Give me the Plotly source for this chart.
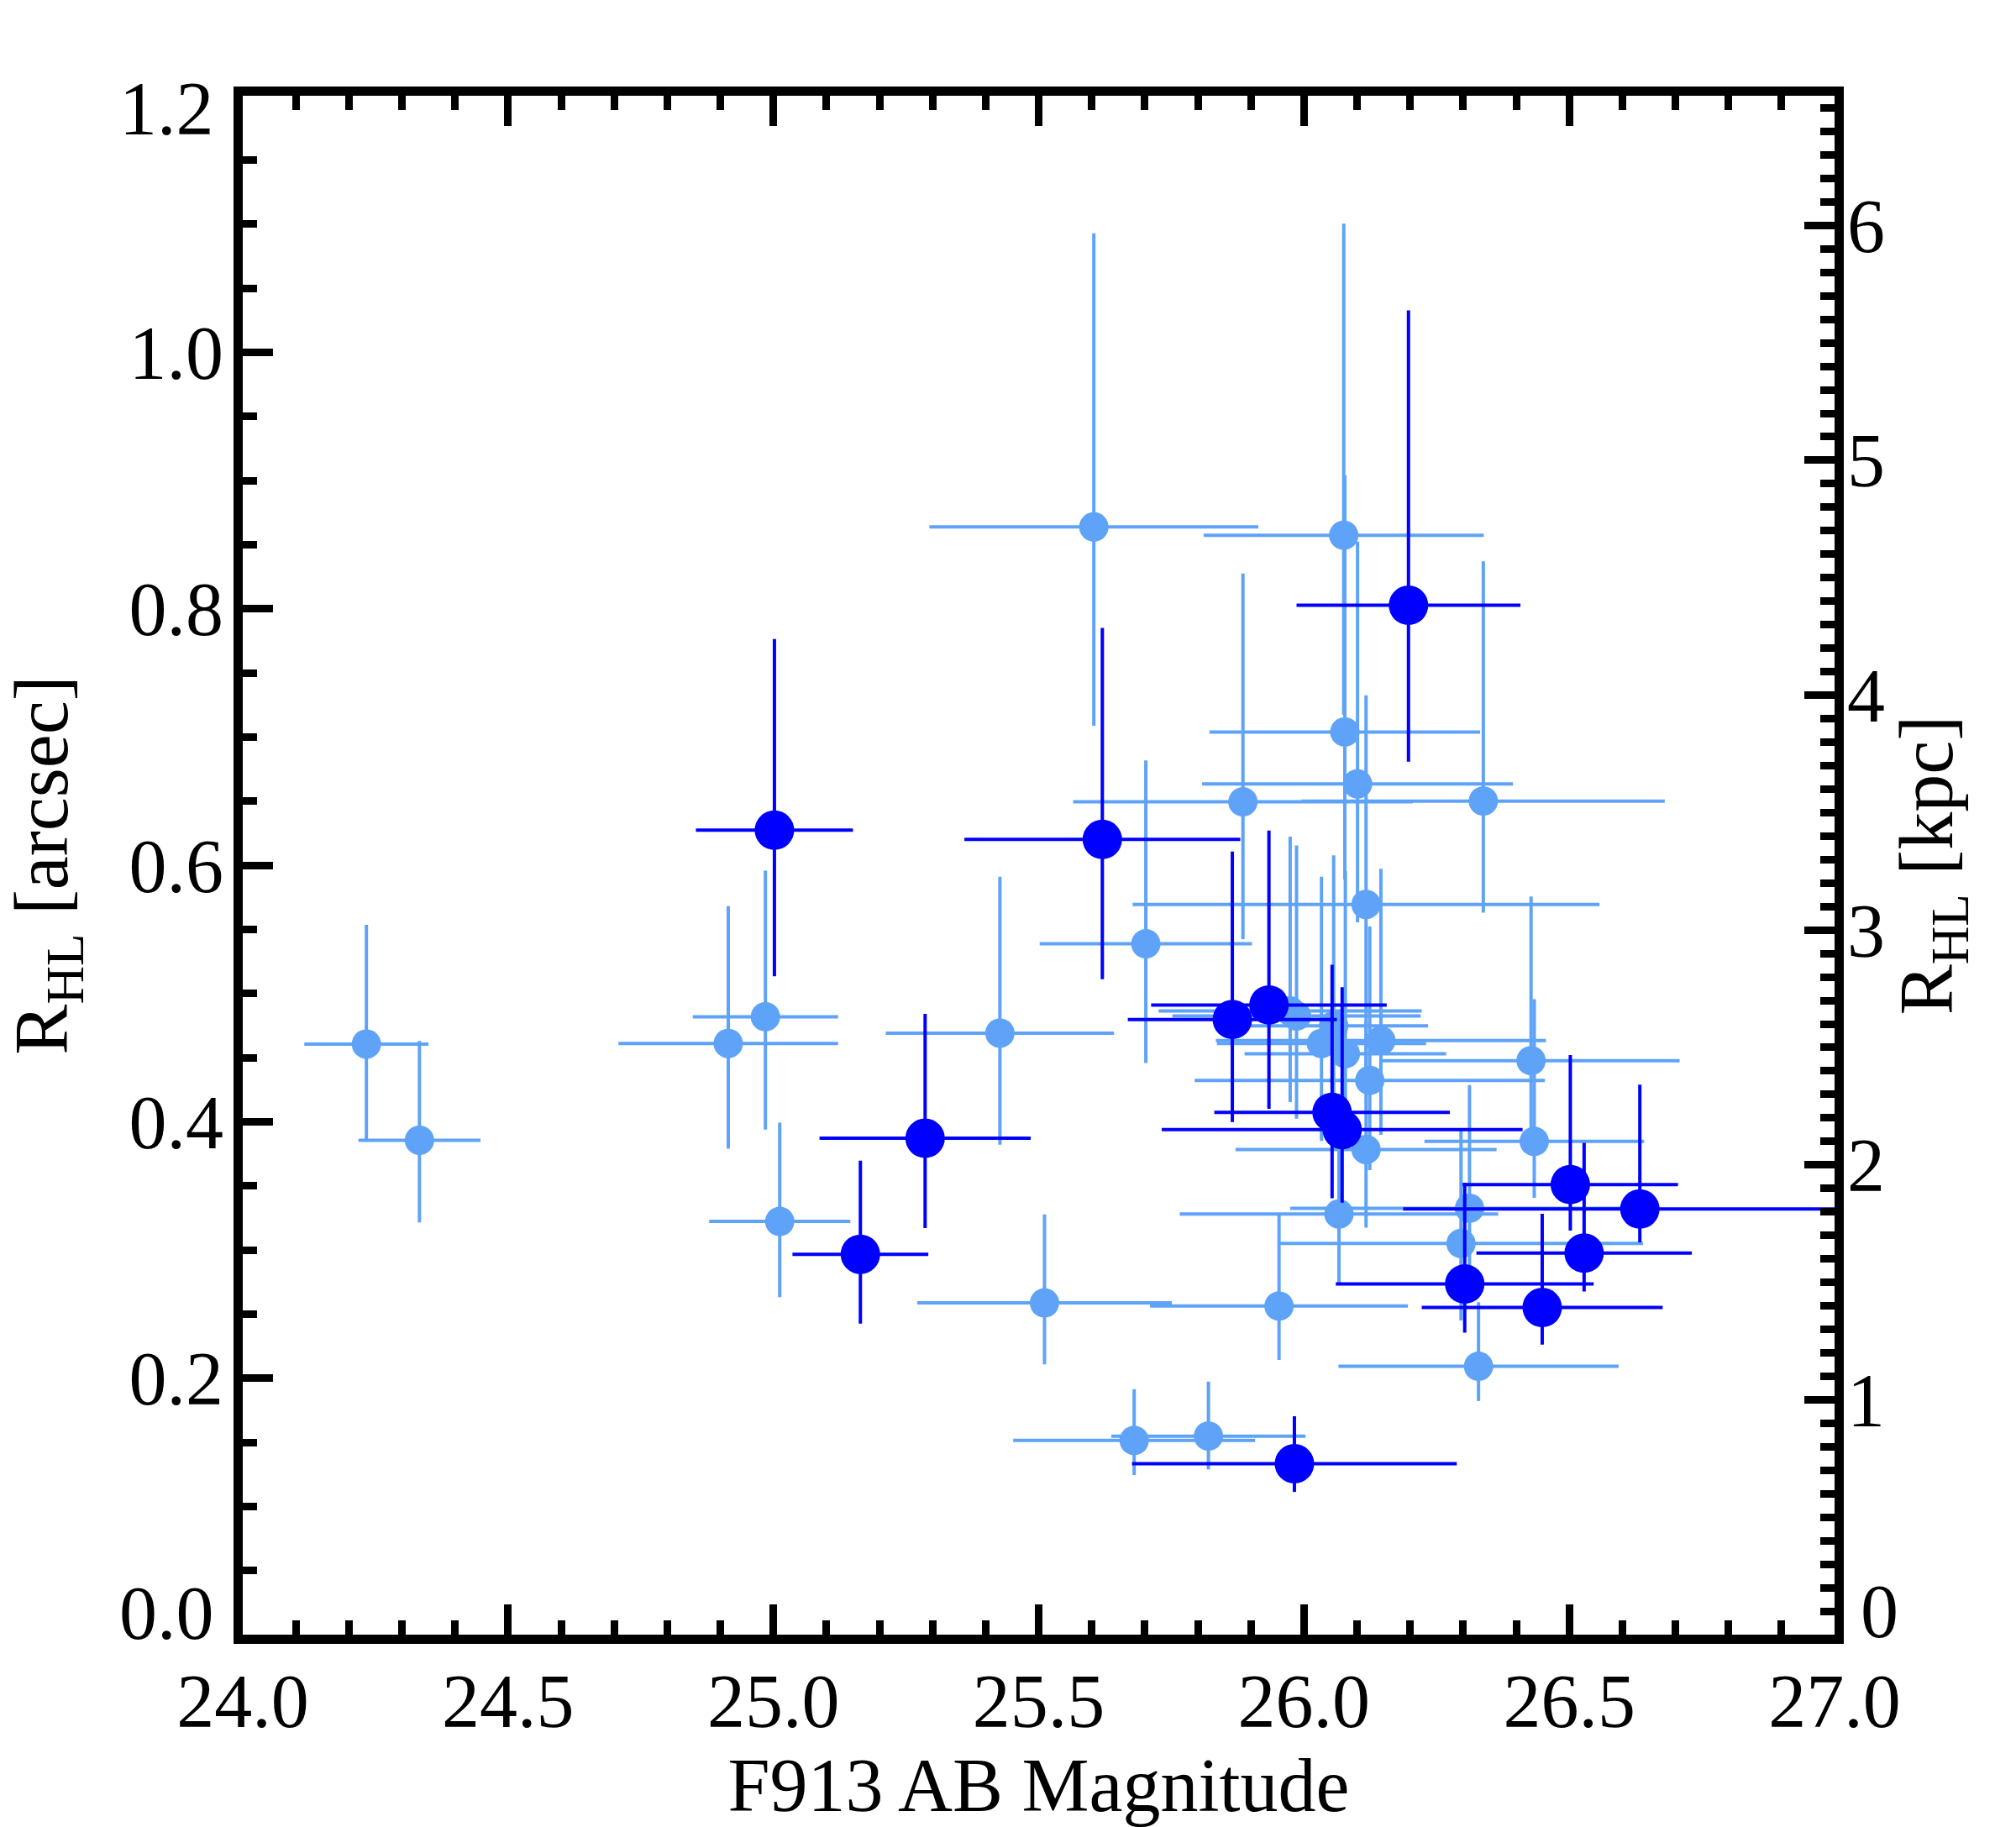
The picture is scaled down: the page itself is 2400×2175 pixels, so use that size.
import plotly.graph_objects as go

# ---------------- data ----------------
# light-blue sample
light_mag = [24.233, 24.333, 24.915, 24.985, 25.012, 25.427, 25.511, 25.604, 25.702,
             25.680, 25.820, 25.885, 25.953, 26.075, 26.077, 26.101, 26.338, 26.117,
             25.986, 25.974, 26.056, 26.033, 26.078, 26.145, 26.124, 26.117, 26.066,
             26.312, 26.296, 26.428, 26.434, 26.329]
light_mag_err = [0.117, 0.115, 0.207, 0.137, 0.133, 0.215, 0.240, 0.310, 0.200,
                 0.228, 0.183, 0.320, 0.243, 0.264, 0.255, 0.293, 0.342, 0.440,
                 0.234, 0.248, 0.178, 0.197, 0.190, 0.311, 0.330, 0.246, 0.300,
                 0.338, 0.343, 0.280, 0.207, 0.264]
light_r = [0.4605, 0.3855, 0.461, 0.4818, 0.3222, 0.469, 0.2587, 0.8638, 0.5387,
           0.1514, 0.1548, 0.6494, 0.2562, 0.8573, 0.7039, 0.6634, 0.650, 0.5694,
           0.4824, 0.4863, 0.4747, 0.461, 0.453, 0.4632, 0.4322, 0.3783, 0.328,
           0.3325, 0.305, 0.4476, 0.3846, 0.2092]
light_r_up = [0.093, 0.0775, 0.107, 0.114, 0.077, 0.122, 0.069, 0.229, 0.143,
              0.040, 0.0425, 0.178, 0.071, 0.243, 0.200, 0.189, 0.187, 0.163,
              0.133, 0.136, 0.133, 0.130, 0.1425, 0.134, 0.120, 0.100, 0.090,
              0.096, 0.088, 0.128, 0.111, 0.050]
light_r_dn = [0.074, 0.064, 0.082, 0.088, 0.059, 0.087, 0.048, 0.155, 0.093,
              0.027, 0.026, 0.107, 0.042, 0.140, 0.115, 0.108, 0.087, 0.140,
              0.080, 0.071, 0.070, 0.076, 0.070, 0.0735, 0.070, 0.061, 0.0535,
              0.070, 0.060, 0.060, 0.044, 0.027]

# dark-blue sample
dark_mag = [25.002, 25.286, 25.164, 25.620, 25.982, 26.197, 25.865, 25.934,
            26.053, 26.072, 26.303, 26.449, 26.633, 26.502, 26.528]
dark_mag_err = [0.148, 0.199, 0.128, 0.260, 0.306, 0.211, 0.197, 0.222,
                0.222, 0.340, 0.243, 0.227, 0.446, 0.203, 0.203]
dark_r = [0.6273, 0.3871, 0.2966, 0.6201, 0.1333, 0.8027, 0.4797, 0.491,
          0.4073, 0.3938, 0.2734, 0.2551, 0.3319, 0.351, 0.2975]
dark_r_up = [0.149, 0.097, 0.073, 0.165, 0.037, 0.230, 0.131, 0.136,
             0.115, 0.111, 0.079, 0.073, 0.097, 0.101, 0.086]
dark_r_dn = [0.114, 0.070, 0.054, 0.109, 0.022, 0.122, 0.080, 0.081,
             0.067, 0.057, 0.038, 0.029, 0.026, 0.036, 0.030]

# axis tick labels
y_tickvals = [0.0, 0.2, 0.4, 0.6, 0.8, 1.0, 1.2]
y_ticktext = ["0.0", "0.2", "0.4", "0.6", "0.8", "1.0", "1.2"]
kpc_tickvals = [0, 1, 2, 3, 4, 5, 6]
kpc_ticktext = ["0", "1", "2", "3", "4", "5", "6"]

KPC_PER_ARCSEC = 5.46
X_RANGE = [24.0, 27.0]
Y_RANGE = [0.0, 1.2]

LIGHT = "#5FA3F8"
DARK = "#0000FF"
FONT = "Liberation Serif"

fig = go.Figure()

fig.add_trace(go.Scatter(
    x=light_mag, y=light_r, mode="markers",
    marker=dict(color=LIGHT, size=35, line=dict(width=0)),
    error_x=dict(type="data", array=light_mag_err, color=LIGHT, thickness=4, width=0),
    error_y=dict(type="data", symmetric=False, array=light_r_up, arrayminus=light_r_dn,
                 color=LIGHT, thickness=4, width=0),
    showlegend=False, hoverinfo="skip"))

fig.add_trace(go.Scatter(
    x=dark_mag, y=dark_r, mode="markers",
    marker=dict(color=DARK, size=47, line=dict(width=0)),
    error_x=dict(type="data", array=dark_mag_err, color=DARK, thickness=4, width=0),
    error_y=dict(type="data", symmetric=False, array=dark_r_up, arrayminus=dark_r_dn,
                 color=DARK, thickness=4, width=0),
    showlegend=False, hoverinfo="skip"))

# empty trace to activate the top / right axes
fig.add_trace(go.Scatter(x=[None], y=[None], xaxis="x2", yaxis="y2",
                         showlegend=False, hoverinfo="skip"))

tickfont = dict(family=FONT, size=90, color="black")
axis_common = dict(showgrid=False, zeroline=False, showline=True, linecolor="black",
                   linewidth=11, ticks="inside", tickcolor="black", tickwidth=9,
                   tickfont=tickfont)
minor_common = dict(ticklen=17, tickwidth=9, ticks="inside", tickcolor="black")

# interior labels come from the axes; the end labels are nudged inward (as in the original)
y_inner_text = [t if 0 < i < len(y_ticktext) - 1 else "" for i, t in enumerate(y_ticktext)]
kpc_inner_text = [t if i > 0 else "" for i, t in enumerate(kpc_ticktext)]

fig.update_layout(
    width=2400, height=2175,
    paper_bgcolor="white", plot_bgcolor="white",
    margin=dict(l=289, r=216, t=114, b=229, autoexpand=False),
    xaxis=dict(range=X_RANGE, dtick=0.5, tick0=24, tickformat=".1f", ticklen=36,
               minor=dict(dtick=0.1, **minor_common),
               title=dict(text="F913 AB Magnitude", font=dict(family=FONT, size=90, color="black"),
                          standoff=58),
               ticklabelstandoff=-9, **axis_common),
    yaxis=dict(range=Y_RANGE, tickmode="array", tickvals=y_tickvals, ticktext=y_inner_text,
               ticklen=36,
               minor=dict(dtick=0.05, **minor_common),
               title=dict(text="R<sub>HL</sub> [arcsec]", font=dict(family=FONT, size=90, color="black"),
                          standoff=49),
               ticklabelstandoff=-6, **axis_common),
    xaxis2=dict(range=X_RANGE, overlaying="x", side="top", anchor="y2", dtick=0.5, tick0=24,
                ticklen=36, showticklabels=False,
                minor=dict(dtick=0.1, **minor_common),
                **axis_common),
    yaxis2=dict(range=[Y_RANGE[0] * KPC_PER_ARCSEC, Y_RANGE[1] * KPC_PER_ARCSEC],
                overlaying="y", side="right", anchor="x2", tickmode="array",
                tickvals=kpc_tickvals, ticktext=kpc_inner_text, ticklen=36,
                minor=dict(dtick=0.1, **minor_common),
                title=dict(text="R<sub>HL</sub> [kpc]", font=dict(family=FONT, size=90, color="black"),
                           standoff=17),
                ticklabelstandoff=-14, **axis_common),
)

ann_font = dict(family=FONT, size=90, color="black")
fig.add_annotation(x=0, xref="paper", y=y_tickvals[0], yref="y", text=y_ticktext[0],
                   xanchor="right", yanchor="middle", xshift=-33, yshift=26,
                   showarrow=False, font=ann_font, borderpad=0)
fig.add_annotation(x=0, xref="paper", y=y_tickvals[-1], yref="y", text=y_ticktext[-1],
                   xanchor="right", yanchor="middle", xshift=-33, yshift=-15,
                   showarrow=False, font=ann_font, borderpad=0)
fig.add_annotation(x=1, xref="paper", y=kpc_tickvals[0], yref="y2", text=kpc_ticktext[0],
                   xanchor="left", yanchor="middle", xshift=30, yshift=28,
                   showarrow=False, font=ann_font, borderpad=0)

fig.write_html("out.html")
